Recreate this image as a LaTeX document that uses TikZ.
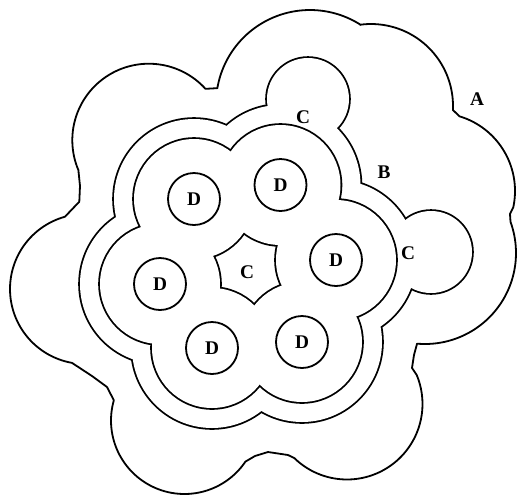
\documentclass[tikz,border=0pt]{standalone}
\usepackage{fontspec}
\setmainfont{Liberation Serif}

\tikzset{
    rim/.style={line width=0.36mm},
    rimtwice/.style={line width=0.72mm},
    tag/.style={font=\bfseries\fontsize{11}{13}\selectfont, inner sep=0pt},
    grain/.style={circle, draw, rim, minimum size=10.4mm, inner sep=0pt,
        font=\bfseries\fontsize{11}{13}\selectfont}
}
\def\grains{(194,199),(280.5,185),(336,260),(302,342),(212,348),(160,284)}

\begin{document}
\begin{tikzpicture}[x=0.2mm, y=-0.2mm]
            \useasboundingbox (0,0) rectangle (517,495);

            \draw[rim, fill=white, line join=round]
                plot[domain=157:317.8, samples=60, variable=\t]
                    ({148.8+76.5*cos(\t)}, {140.2+76.5*sin(\t)})
                -- plot[domain=189.7:302.7, samples=60, variable=\t]
                    ({310+94*cos(\t)}, {104+94*sin(\t)})
                -- plot[domain=262.3:362.8, samples=60, variable=\t]
                    ({371+82*cos(\t)}, {106+82*sin(\t)})
                -- plot[domain=286.8:372, samples=60, variable=\t]
                    ({437+78*cos(\t)}, {191+78*sin(\t)})
                -- (510,214)
                -- plot[domain=-20:95, samples=60, variable=\t]
                    ({425+91*cos(\t)}, {253+91*sin(\t)})
                -- (414,355) -- (412,368)
                -- plot[domain=-22.6:134.2, samples=60, variable=\t]
                    ({347+75.5*cos(\t)}, {404+75.5*sin(\t)})
                -- (288,455) -- (268,452) -- (255,456)
                -- plot[domain=34:196, samples=60, variable=\t]
                    ({184.5+73.5*cos(\t)}, {420.5+73.5*sin(\t)})
                -- (107,387) -- (92,376)
                -- plot[domain=100:254.5, samples=60, variable=\t]
                    ({85+75*cos(\t)}, {289+75*sin(\t)})
                -- (79.3,201.7) -- (80,186) -- cycle;

            \foreach \c in \grains
                \draw[rimtwice] \c circle (80);
            \draw[rimtwice] (308,99) circle (41);
            \draw[rimtwice] (431,252) circle (41);
            \foreach \c in \grains
                \fill[white] \c circle (80);
            \fill[white] (308,99) circle (41);
            \fill[white] (431,252) circle (41);
            \fill[white] (194,199) -- (280.5,185) -- (336,260) -- (302,342)
                -- (212,348) -- (160,284) -- cycle;

            \foreach \c in \grains
                \draw[rimtwice] \c circle (60);
            \foreach \c in \grains
                \fill[white] \c circle (60);

            \node[grain] (d1) at (194,199) {D};
            \node[grain] (d2) at (280.5,185) {D};
            \node[grain] (d3) at (336,260) {D};
            \node[grain] (d4) at (160,284) {D};
            \node[grain] (d5) at (212,348) {D};
            \node[grain] (d6) at (302,342) {D};

            \node[tag] (zonea) at (477,99) {A};
            \node[tag] (zoneb) at (384,172) {B};
            \node[tag] (poretop) at (303,117) {C};
            \node[tag] (poreright) at (408,253) {C};
            \node[tag] (porecentre) at (247,272) {C};
        \end{tikzpicture}
\end{document}
